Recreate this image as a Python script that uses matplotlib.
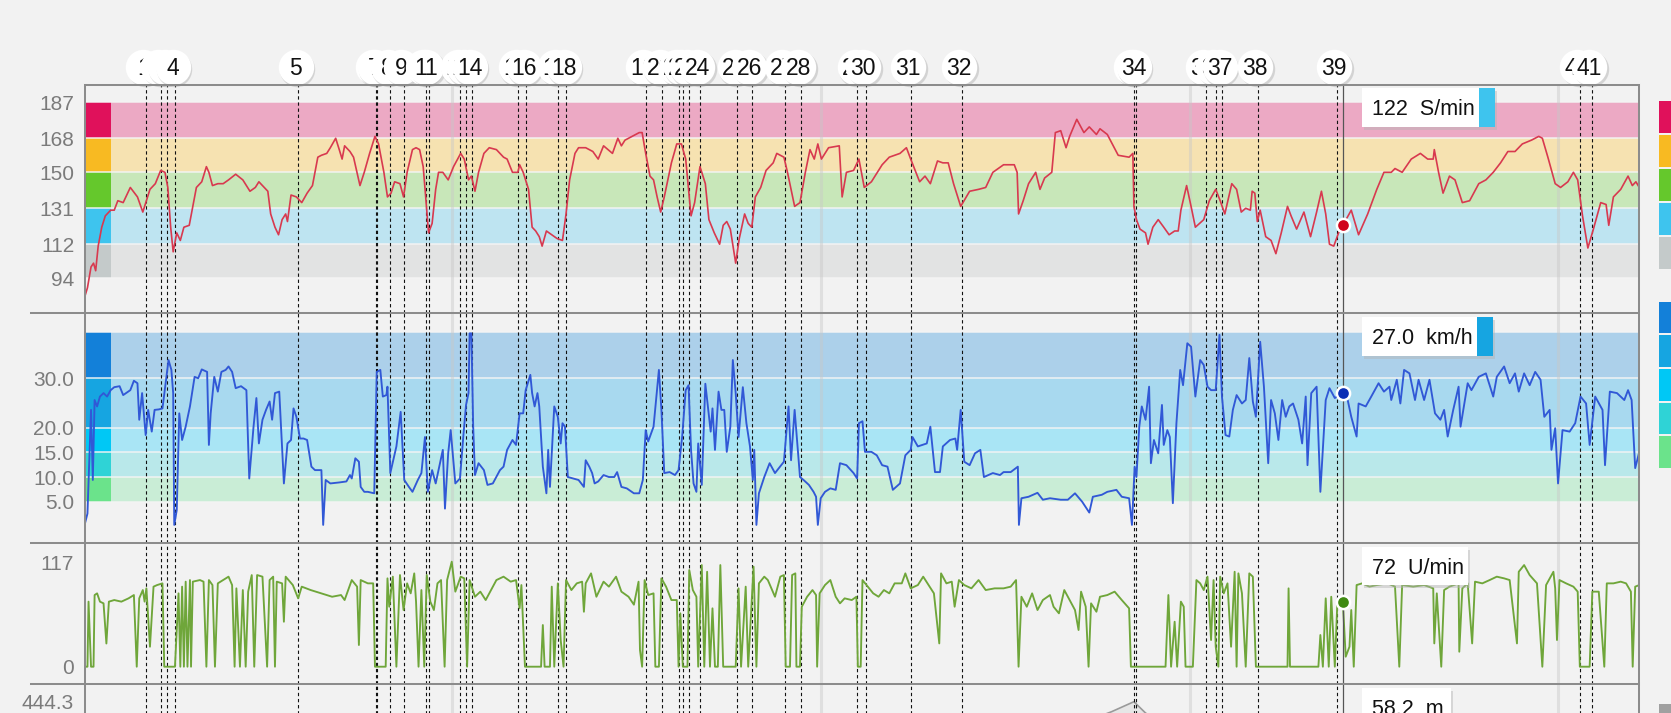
import numpy as np
import matplotlib
matplotlib.use("Agg")
import matplotlib.pyplot as plt
from matplotlib import transforms as mtransforms
from matplotlib.patches import Rectangle

plt.rcParams['font.family'] = ['Liberation Sans', 'DejaVu Sans']

# ------------------------------------------------------------------ data
# elapsed time in seconds
hr_points = [(0,84),(16,89),(36,100),(50,102),(62,98),(76,111),(96,121),(116,127),(146,130),(166,130),
 (186,135),(216,134),(256,142),(296,137),(326,129),(346,135),(366,141),(396,144),(426,151),(450,150),
 (466,142),(482,121),(496,108),(516,118),(536,114),(556,121),(586,122),(606,132),(626,142),(656,145),
 (682,153),(696,150),(716,143),(746,144),(776,144),(806,146),(846,149),(886,146),(926,140),(956,142),
 (976,145),(1006,142),(1026,140),(1042,128),(1066,121),(1086,117),(1106,125),(1126,128),(1136,124),(1156,138),
 (1186,137),(1216,134),(1246,139),(1276,143),(1306,158),(1326,159),(1356,160),(1376,163),(1406,168),(1426,162),
 (1442,157),(1456,164),(1486,161),(1506,158),(1542,143),(1566,150),(1596,160),(1626,169),(1646,165),(1676,150),
 (1696,137),(1716,139),(1736,145),(1766,144),(1786,137),(1806,150),(1836,162),(1856,163),(1876,162),(1896,153),
 (1910,137),(1926,118),(1946,123),(1966,141),(1982,150),(2006,150),(2036,146),(2066,153),(2106,160),(2126,157),
 (2150,146),(2166,148),(2186,140),(2206,150),(2236,160),(2266,163),(2306,162),(2346,158),(2366,157),(2396,150),
 (2426,150),(2436,154),(2456,150),(2486,141),(2506,121),(2526,119),(2546,116),(2562,111),(2586,119),(2616,117),
 (2646,115),(2676,114),(2696,128),(2716,146),(2746,160),(2766,163),(2806,163),(2846,161),(2876,157),(2906,164),
 (2956,160),(2986,168),(3006,164),(3026,167),(3066,169),(3106,171),(3122,171),(3142,160),(3166,148),(3186,146),
 (3206,137),(3226,129),(3246,137),(3286,155),(3316,165),(3342,165),(3366,157),(3396,127),(3416,134),(3446,153),
 (3476,144),(3496,125),(3526,118),(3556,112),(3576,122),(3596,124),(3616,120),(3646,102),(3666,115),(3696,128),
 (3716,123),(3736,121),(3756,137),(3786,142),(3816,151),(3856,155),(3876,160),(3916,158),(3936,150),(3976,132),
 (4006,134),(4036,150),(4062,162),(4086,157),(4106,165),(4126,157),(4166,163),(4226,164),(4242,137),(4266,150),
 (4306,151),(4336,157),(4366,142),(4406,145),(4466,154),(4506,158),(4566,160),(4602,163),(4626,157),(4676,145),
 (4706,148),(4736,144),(4776,156),(4806,155),(4836,155),(4866,144),(4906,132),(4956,140),(5006,141),(5046,142),
 (5086,150),(5146,154),(5206,154),(5222,150),(5230,128),(5256,135),(5286,144),(5326,150),(5350,141),(5376,147),
 (5416,150),(5436,171),(5466,172),(5496,163),(5516,169),(5556,178),(5596,171),(5626,174),(5666,170),(5686,173),
 (5727,170),(5788,159),(5849,158),(5870,160),(5876,132),(5890,125),(5910,120),(5941,118),(5955,112),(5982,121),
 (6012,125),(6043,121),(6073,117),(6104,119),(6124,119),(6139,130),(6171,143),(6196,132),(6220,121),(6267,125),
 (6298,135),(6334,141),(6359,135),(6385,128),(6424,144),(6451,141),(6477,129),(6502,131),(6528,130),(6538,140),
 (6553,139),(6567,124),(6583,130),(6614,116),(6644,114),(6671,107),(6701,118),(6736,132),(6756,127),(6787,120),
 (6828,129),(6865,116),(6899,129),(6926,140),(6950,128),(6971,112),(6995,111),(7022,118),(7046,122),(7093,130),
 (7134,117),(7185,128),(7236,141),(7276,150),(7317,150),(7338,152),(7378,150),(7429,157),(7480,160),(7521,157),
 (7552,157),(7558,162),(7582,150),(7607,139),(7643,148),(7674,146),(7715,134),(7756,135),(7807,144),(7847,146),
 (7888,150),(7929,155),(7970,161),(8010,161),(8051,165),(8102,167),(8143,169),(8163,168),(8194,158),(8235,144),
 (8265,142),(8306,145),(8337,150),(8361,146),(8388,127),(8418,110),(8449,120),(8490,134),(8520,133),(8535,122),
 (8561,137),(8602,141),(8643,148),(8667,143),(8687,145),(8706,142)]

speed_points = [(0,0.3),(16,2.6),(26,13.4),(36,23.6),(46,9.4),(56,25.6),(70,24.3),(86,26.3),(106,27),(126,26.3),
 (146,27.6),(166,28.2),(196,28.4),(216,26.6),(256,27.6),(276,29.5),(296,29),(306,21.6),(322,27),(342,18.5),
 (356,23.6),(376,19.2),(392,23.6),(416,23.7),(436,23.9),(456,29.7),(470,33.7),(486,31.7),(496,27),(502,0.3),
 (516,3.3),(530,22.9),(546,17.5),(566,20.2),(590,24.3),(616,30.3),(636,30),(656,31.8),(686,31.3),(696,16.5),
 (706,22.9),(726,30.3),(746,27.3),(766,31.3),(790,31.7),(806,32.4),(826,31.3),(846,28),(876,28.4),(906,27.6),
 (922,9.7),(946,20.2),(962,26),(976,16.8),(996,21.6),(1016,23.6),(1036,25.3),(1050,21.6),(1066,27),(1090,27.3),
 (1116,8.7),(1136,16.8),(1156,17.5),(1170,23.9),(1186,22.2),(1206,17.8),(1226,17.8),(1246,17.5),(1270,12.1),(1290,11.4),
 (1326,11.4),(1336,0.3),(1350,9.4),(1376,8.7),(1426,8.9),(1466,9.1),(1486,10.4),(1496,9.7),(1516,13.8),(1536,13.1),
 (1546,8),(1566,7),(1586,7),(1622,6.7),(1636,31.3),(1656,31.7),(1670,26.3),(1690,26.6),(1696,28.3),(1712,10.8),
 (1746,16.2),(1770,23.2),(1790,9.4),(1816,8),(1836,7),(1866,9.4),(1886,10.8),(1906,18.1),(1922,7),(1946,11.4),
 (1966,8.7),(1982,11.4),(2006,15.5),(2018,3.6),(2036,14.8),(2050,19.5),(2076,8.7),(2102,9.7),(2122,18.8),(2136,24.6),
 (2150,27),(2156,39.1),(2166,39.1),(2176,20.2),(2186,10.4),(2206,12.8),(2236,11.4),(2256,8.4),(2286,8.7),(2326,11.4),
 (2346,12.1),(2366,15.5),(2396,17.5),(2416,16.5),(2436,22.9),(2456,22.9),(2470,27.6),(2496,30.7),(2506,27),(2520,24.3),
 (2536,27),(2546,24.3),(2566,12.1),(2586,6.7),(2596,15.5),(2606,8),(2630,24.3),(2650,22.2),(2666,16.8),(2676,20.9),
 (2690,20.2),(2706,10),(2736,9.7),(2766,9.4),(2796,8),(2806,13.4),(2826,12.1),(2842,10.8),(2856,8.7),(2876,9.1),
 (2906,10.4),(2936,10),(2966,10),(2982,11),(3006,8),(3036,7.7),(3076,6.7),(3106,6.7),(3126,9.4),(3142,19.5),
 (3156,17.2),(3186,20.2),(3216,31.7),(3230,23.6),(3246,10.8),(3276,11),(3306,10.4),(3326,11.4),(3346,18.1),(3366,27.6),
 (3382,28.6),(3396,15.5),(3410,8.7),(3426,7),(3436,16.8),(3456,8.4),(3476,28.9),(3506,19.2),(3516,23.9),(3530,15.5),
 (3550,27.3),(3566,23.6),(3582,23.6),(3596,15.1),(3616,20.2),(3630,33.7),(3646,27),(3662,18.1),(3686,28.2),(3706,20.9),
 (3726,16.2),(3742,9.4),(3750,15.5),(3762,0.3),(3776,6.7),(3806,10),(3836,12.8),(3866,10.8),(3916,13.1),(3942,24.3),
 (3956,13.4),(3976,23.6),(4006,10),(4026,9.4),(4056,8.4),(4082,7),(4096,6),(4106,0.3),(4122,5.7),(4146,7),
 (4176,7.7),(4206,7.4),(4230,12.8),(4266,12.4),(4306,10.8),(4326,9.7),(4336,20.9),(4356,21.3),(4370,15.1),(4406,15.1),
 (4436,14.4),(4466,12.4),(4496,12.1),(4526,7.4),(4566,8.7),(4596,14.4),(4626,15.5),(4636,18.1),(4666,16.2),(4716,16.8),
 (4736,20.2),(4762,11),(4790,11),(4806,16.2),(4846,17.5),(4876,17.8),(4886,15.5),(4906,23.6),(4926,13.1),(4956,12.4),
 (4986,14.8),(5016,15.5),(5036,10),(5086,10.8),(5126,10.4),(5146,11),(5186,11),(5226,12.1),(5232,0.3),(5246,5.7),
 (5286,6),(5336,6.8),(5366,5.4),(5406,5.7),(5466,5.4),(5506,5.4),(5546,6.7),(5586,5),(5626,2.8),(5646,6),
 (5696,6.4),(5727,7),(5778,7.4),(5808,6),(5849,5.7),(5865,0.3),(5880,12.1),(5890,10),(5906,20.2),(5920,24.3),
 (5941,21.6),(5961,28.3),(5971,12.8),(5988,17.5),(6012,14.8),(6033,24.6),(6043,16.5),(6063,19.5),(6077,18.1),(6094,4.7),
 (6114,20.9),(6135,31.7),(6151,28.6),(6175,37.1),(6196,36.4),(6220,26.3),(6247,33.7),(6267,32.7),(6288,28.3),(6308,27.6),
 (6334,27.6),(6355,38.8),(6369,26.3),(6389,18.5),(6410,18.2),(6430,23.6),(6451,26.6),(6481,24.9),(6502,25.6),(6522,34.1),
 (6542,25.3),(6559,22.2),(6583,37.4),(6604,28.3),(6628,12.8),(6644,25.6),(6665,22.9),(6685,17.5),(6706,25.6),(6726,22.2),
 (6746,24.3),(6767,24.9),(6797,21.6),(6818,16.8),(6838,26.3),(6848,12.4),(6869,27),(6899,28.3),(6920,7),(6950,25.6),
 (6971,28),(7001,26),(7046,27.0),(7073,25.6),(7093,22.2),(7123,18.2),(7134,24.9),(7174,24.3),(7205,26.3),(7246,29),
 (7276,27.3),(7307,28.3),(7317,25.6),(7348,29.7),(7368,24.9),(7389,31.7),(7419,31),(7450,25.6),(7470,29.7),(7501,25.6),
 (7531,29.7),(7562,22.9),(7592,21.6),(7613,23.6),(7633,18.2),(7664,23.6),(7694,28.3),(7705,20.2),(7745,29),(7766,27.6),
 (7807,30.3),(7847,31),(7888,26.3),(7908,30.3),(7949,32.4),(7980,29),(8010,31),(8031,27.3),(8061,31),(8092,28.6),
 (8123,31.3),(8153,29.7),(8174,22.2),(8204,23.6),(8214,15.5),(8235,19.9),(8251,8.7),(8276,19.5),(8316,19.2),(8347,20.9),
 (8377,26.3),(8408,24.9),(8428,16.5),(8459,26.3),(8500,23.6),(8514,12.4),(8541,27.3),(8581,27),(8622,25.6),(8643,27.6),
 (8663,25.6),(8683,11.8),(8706,15.1)]

cadence_points = [(0,0),(16,0),(22,72.9),(36,0),(50,0),(56,80.3),(70,82.2),(86,72.9),(106,71),(122,26),
 (136,72.9),(166,74.7),(206,72.9),(246,76.6),(276,80.3),(292,0),(306,76.6),(326,85.9),(336,72.9),(346,87.8),
 (366,22.4),(386,89.7),(406,91.5),(436,93.4),(446,0),(506,0),(526,82.2),(536,0),(546,89.7),(556,0),
 (566,95.3),(576,0),(590,97.1),(596,0),(606,95.3),(646,97.1),(666,95.3),(682,0),(696,97.1),(716,91.5),
 (730,0),(746,93.4),(776,97.1),(806,100.9),(826,91.5),(840,0),(850,87.8),(870,0),(886,85.9),(902,0),
 (916,84.1),(936,102.7),(950,0),(966,102.7),(996,100.9),(1022,0),(1036,97.1),(1056,100.9),(1066,0),(1076,95.3),
 (1106,93.4),(1116,50.4),(1126,100.9),(1166,91.5),(1196,76.6),(1216,89.7),(1266,85.9),(1326,82.2),(1386,78.4),(1436,80.3),
 (1456,74.7),(1496,97.1),(1526,89.7),(1536,24.3),(1546,97.1),(1586,93.4),(1616,93.4),(1626,0),(1686,0),(1696,99),
 (1706,67.2),(1726,100.9),(1746,0),(1766,102.7),(1786,63.5),(1806,93.4),(1826,82.2),(1846,104.6),(1856,72.9),(1870,0),
 (1886,85.9),(1902,0),(1916,102.7),(1936,72.9),(1956,63.5),(1976,93.4),(1996,97.1),(2016,0),(2030,97.1),(2056,117.7),
 (2076,84.1),(2106,100.9),(2126,99),(2142,0),(2156,97.1),(2186,78.4),(2216,84.1),(2246,74.7),(2276,85.9),(2306,97.1),
 (2346,100.9),(2386,95.3),(2416,97.1),(2436,65.4),(2446,91.5),(2466,0),(2556,0),(2566,46.7),(2576,0),(2606,0),
 (2616,89.7),(2630,0),(2650,93.4),(2666,29.9),(2682,0),(2696,97.1),(2726,85.9),(2756,93.4),(2786,95.3),(2796,61.6),
 (2806,93.4),(2836,104.6),(2866,78.4),(2906,95.3),(2936,89.7),(2976,100.9),(3006,84.1),(3046,78.4),(3076,69.5),(3102,95.3),
 (3110,18.7),(3122,0),(3136,97.1),(3156,80.3),(3186,82.2),(3196,0),(3216,0),(3230,99),(3256,89.7),(3286,74.7),
 (3316,74.7),(3326,0),(3336,59.8),(3350,0),(3376,0),(3386,108.3),(3406,85.9),(3426,78.4),(3436,0),(3456,113.9),
 (3470,0),(3486,106.4),(3502,0),(3516,65.4),(3530,0),(3546,0),(3560,113.9),(3576,0),(3646,0),(3662,87.8),
 (3676,0),(3702,89.7),(3716,0),(3736,74.7),(3746,112.1),(3762,0),(3776,93.4),(3806,100.9),(3826,97.1),(3866,78.4),
 (3896,100.9),(3916,102.7),(3926,0),(3950,0),(3962,102.7),(3980,104.6),(3986,0),(4006,0),(4016,67.2),(4046,78.4),
 (4076,85.9),(4096,80.3),(4102,0),(4116,82.2),(4146,91.5),(4176,97.1),(4206,78.4),(4230,71),(4256,76.6),(4296,74.7),
 (4322,78.4),(4330,0),(4346,0),(4356,97.1),(4386,89.7),(4416,82.2),(4446,78.4),(4476,85.9),(4506,82.2),(4536,93.4),
 (4576,93.4),(4596,104.6),(4626,87.8),(4666,91.5),(4696,100.9),(4726,91.5),(4756,82.2),(4786,26.1),(4796,104.6),(4826,93.4),
 (4856,95.3),(4872,67.2),(4896,97.1),(4926,91.5),(4966,87.8),(5006,97.1),(5046,85.9),(5096,87.8),(5146,87.8),(5186,89.7),
 (5216,97.1),(5230,0),(5246,78.4),(5276,67.2),(5306,82.2),(5336,63.5),(5366,74.7),(5406,80.3),(5426,67.2),(5456,59.8),
 (5486,85.9),(5516,74.7),(5546,63.5),(5566,41.1),(5580,84.1),(5606,67.2),(5622,0),(5636,71),(5666,61.6),(5686,78.4),
 (5727,80.3),(5768,84.1),(5808,74.7),(5849,65.4),(5859,0),(6053,0),(6069,80.3),(6084,0),(6104,50.4),(6118,0),
 (6139,72.9),(6155,67.2),(6165,0),(6206,0),(6226,97.1),(6247,93.4),(6267,85.9),(6288,100.9),(6308,29.9),(6322,97.1),
 (6334,22.4),(6349,0),(6359,100.9),(6379,82.2),(6400,93.4),(6420,22.4),(6440,106.4),(6451,0),(6461,104.6),(6481,82.2),
 (6502,0),(6522,104.6),(6542,100.9),(6559,0),(6736,0),(6742,87.8),(6750,0),(6909,0),(6920,35.5),(6934,0),
 (6950,76.6),(6967,0),(6981,78.4),(7001,0),(7015,71),(7046,72),(7062,11.2),(7083,22.4),(7093,63.5),(7107,0),
 (7123,91.5),(7154,93.4),(7195,89.7),(7236,91.5),(7297,93.4),(7338,89.7),(7362,0),(7378,91.5),(7440,89.7),(7501,91.5),
 (7552,87.8),(7558,26.1),(7572,82.2),(7597,0),(7613,85.9),(7643,89.7),(7694,93.4),(7698,16.8),(7715,87.8),(7745,93.4),
 (7770,26.1),(7786,95.3),(7827,93.4),(7868,97.1),(7908,100.9),(7949,99),(7980,97.1),(8021,26.1),(8031,106.4),(8061,113.9),
 (8092,102.7),(8133,93.4),(8163,0),(8184,91.5),(8225,106.4),(8235,87.8),(8245,29.9),(8259,97.1),(8296,93.4),(8337,89.7),
 (8361,84.1),(8373,0),(8428,0),(8443,84.1),(8479,84.1),(8510,0),(8524,93.4),(8561,93.4),(8602,95.3),(8632,93.4),
 (8659,84.1),(8669,0),(8683,89.7),(8706,91.5)]

altitude_points = [(0,62),(2000,150),(4000,250),(5500,330),(5751,402.4),(5876,444.3),(5941,396.9),
 (6300,220),(7046,58.2),(8000,60),(8706,62)]

marker_t = [342,426,462,508,1196,1630,1638,1712,1786,1910,1928,2104,2138,2170,2428,2474,2650,2698,
            3142,3236,3326,3352,3386,3444,3656,3736,3920,4010,4328,4374,4626,4912,5876,5888,6278,6335,
            6372,6569,7012,8372,8439]
marker_labels = [str(i) for i in range(1, len(marker_t) + 1)]
section_t = [2056, 4126, 6188, 8252]
cursor_t = 7046
t_end = 8706

hr_zone_edges = [94, 112, 131, 150, 168, 187]
hr_zone_colors = ['#c4caca', '#3ec4ee', '#65c82c', '#f8ba22', '#e0115b']
hr_band_colors = ['#e2e3e3', '#bee4f1', '#c8e7b9', '#f6e2b1', '#eca9c4']
spd_zone_edges = [5, 10, 15, 20, 30, 39.3]
spd_zone_colors = ['#6be38b', '#2fd3d6', '#00c8f5', '#16a5e1', '#1380d9']
spd_band_colors = ['#c9edd6', '#b9e8ea', '#a9e5f5', '#a8d9ef', '#acd0ea']
hr_ticks = [94, 112, 131, 150, 168, 187]
spd_ticks = [5, 10, 15, 20, 30]
cad_ticks = [0, 117]
alt_ticks = [444.3]

hr_t, hr_bpm = map(np.array, zip(*hr_points))
spd_t, spd_kmh = map(np.array, zip(*speed_points))
cad_t, cad_rpm = map(np.array, zip(*cadence_points))
alt_t, alt_m = map(np.array, zip(*altitude_points))

# ------------------------------------------------------------------ layout (pixels)
W, H = 1671, 713
BG = '#f2f2f2'
L, R = 84.6, 1639.3
P_TOP, P1, P2, P3, P_ALT_BOT = 85.3, 313.3, 543.0, 684.3, 825.3
FRAME = '#8c8c8c'

fig = plt.figure(figsize=(W / 100, H / 100), dpi=100, facecolor=BG)


def px_axes(top, bottom):
    ax = fig.add_axes([L / W, 1 - bottom / H, (R - L) / W, (bottom - top) / H])
    ax.set_facecolor('none')
    for s in ax.spines.values():
        s.set_visible(False)
    ax.set_xticks([])
    ax.tick_params(axis='y', length=0, pad=7.5, labelsize=15, labelcolor='#7b7b7b')
    return ax


def ylim_from(v1, p1, v2, p2, top, bottom):
    k = (v1 - v2) / (p2 - p1)
    return v2 - (bottom - p2) * k, v1 + (p1 - top) * k


ax_hr = px_axes(P_TOP, P1)
ax_sp = px_axes(P1, P2)
ax_cd = px_axes(P2, P3)
ax_al = px_axes(P3, P_ALT_BOT)
axes = [ax_hr, ax_sp, ax_cd, ax_al]

lims = {
    ax_hr: ylim_from(187, 102.3, 94, 278.3, P_TOP, P1),
    ax_sp: ylim_from(30, 378.3, 5, 501.7, P1, P2),
    ax_cd: ylim_from(117, 562.3, 0, 666.7, P2, P3),
    ax_al: ylim_from(444.3, 701.7, 0, 807.7, P3, P_ALT_BOT),
}
sw_frac = 26.1 / (R - L)

# zone bands
for ax, edges, bands, zones in [(ax_hr, hr_zone_edges, hr_band_colors, hr_zone_colors),
                                (ax_sp, spd_zone_edges, spd_band_colors, spd_zone_colors)]:
    for lo, hi, bc, zc in zip(edges[:-1], edges[1:], bands, zones):
        ax.axhspan(lo, hi, color=bc, lw=0, zorder=0.5)
        ax.axhspan(lo, hi, xmin=0, xmax=sw_frac, color=zc, lw=0, zorder=0.6)
    for e in edges:
        ax.axhline(e, color='#f4f4f4', lw=1.3, alpha=0.8, zorder=0.7)

for ax in axes:
    for t in section_t:
        ax.axvline(t, color='#c8c8c8', lw=2.2, alpha=0.45, zorder=0.8)
    for t in marker_t:
        ax.axvline(t, color='#111111', lw=0.8, ls=(0, (3, 2.5)), zorder=1.5)
    ax.axvline(cursor_t, color='#555555', lw=0.9, zorder=2.5)

# series
ax_hr.plot(hr_t, hr_bpm, color='#d8394f', lw=1.2, zorder=2)
ax_sp.plot(spd_t, spd_kmh, color='#3158d6', lw=1.35, zorder=2)
ax_cd.plot(cad_t, cad_rpm, color='#6fa63a', lw=1.35, zorder=2)
ax_al.fill_between(alt_t, alt_m, lims[ax_al][0], color='#e6e6e6', lw=0, zorder=1.0)
ax_al.plot(alt_t, alt_m, color='#9a9a9a', lw=1.2, zorder=1.1)

# ticks
ax_hr.set_yticks(hr_ticks, [str(v) for v in hr_ticks])
ax_sp.set_yticks(spd_ticks, [f"{v:.1f}" for v in spd_ticks])
ax_cd.set_yticks(cad_ticks, [str(v) for v in cad_ticks])
ax_al.set_yticks(alt_ticks, [f"{v:.1f}" for v in alt_ticks])

# cursor values
hr_val = np.interp(cursor_t, hr_t, hr_bpm)
sp_val = np.interp(cursor_t, spd_t, spd_kmh)
cd_val = np.interp(cursor_t, cad_t, cad_rpm)
al_val = np.interp(cursor_t, alt_t, alt_m)
for ax, v, c in [(ax_hr, hr_val, '#d0021b'), (ax_sp, sp_val, '#0b2fb5'), (ax_cd, cd_val, '#3f8a12')]:
    ax.plot([cursor_t], [v], 'o', ms=9.5, mfc=c, mec='white', mew=1.8, zorder=6, clip_on=False)

# marker circles
yc = 1 - 67.3 / H
blend = mtransforms.blended_transform_factory(ax_hr.transData, fig.transFigure)
circ_tr = mtransforms.offset_copy(blend, fig=fig, x=-2.5, y=0, units='dots')
shad_tr = mtransforms.offset_copy(blend, fig=fig, x=-1.0, y=-2.0, units='dots')
text_tr = mtransforms.offset_copy(blend, fig=fig, x=-2.5, y=-8.0, units='dots')
for i, (t, lab) in enumerate(zip(marker_t, marker_labels)):
    z = 20 + i * 0.01
    ax_hr.plot([t], [yc], 'o', ms=25.5, mfc='#9a9a9a', mec='none', alpha=0.35,
               transform=shad_tr, clip_on=False, zorder=z - 0.004)
    ax_hr.plot([t], [yc], 'o', ms=25.5, mfc='white', mec='none',
               transform=circ_tr, clip_on=False, zorder=z)
    ax_hr.text(t, yc, lab, transform=text_tr, ha='center', va='baseline',
               fontsize=16.5, color='#111111', zorder=z + 0.005, clip_on=False)

for ax in axes:
    ax.set_xlim(0, t_end)
    ax.set_ylim(*lims[ax])

# ------------------------------------------------------------------ overlay (frame, tooltips, legend swatches)
ov = fig.add_axes([0, 0, 1, 1], zorder=10)
ov.set_xlim(0, W)
ov.set_ylim(H, 0)
ov.axis('off')
lw_frame = 1.45
ov.plot([L, R], [P_TOP, P_TOP], color=FRAME, lw=lw_frame)
for y in [P1, P2, P3]:
    ov.plot([31, R], [y, y], color=FRAME, lw=lw_frame)
ov.plot([L, L], [P_TOP, H], color=FRAME, lw=lw_frame)
ov.plot([R, R], [P_TOP, H], color=FRAME, lw=lw_frame)

# right legend swatches
for i, c in enumerate(hr_zone_colors[::-1]):
    ov.add_patch(Rectangle((1659, 101 + i * 34.1), 30, 31.6, color=c, lw=0))
for i, c in enumerate(spd_zone_colors[::-1]):
    ov.add_patch(Rectangle((1659, 301.7 + i * 33.6), 30, 31.6, color=c, lw=0))
ov.add_patch(Rectangle((1659, 704), 30, 30, color='#a0a0a0', lw=0))


def zone_color(v, edges, colors):
    i = int(np.clip(np.searchsorted(edges, v) - 1, 0, len(colors) - 1))
    return colors[i]


def tooltip(x0, y0, w, h, text, tab=None):
    ov.add_patch(Rectangle((x0 + 2, y0 + 3), w, h, color='#b4b4b4', alpha=0.45, lw=0))
    ov.add_patch(Rectangle((x0, y0), w, h, color='white', lw=0))
    if tab is not None:
        ov.add_patch(Rectangle((x0 + w - 16, y0), 16, h, color=tab, lw=0))
    ov.text(x0 + 10.5, y0 + h / 2 + 7.8, text, ha='left', va='baseline',
            fontsize=15.5, color='#111111')


tooltip(1361.8, 88.3, 133.3, 38.4, f"{hr_val:.0f}  S/min",
        zone_color(hr_val, hr_zone_edges, hr_zone_colors))
tooltip(1361.8, 316.7, 131.5, 39.0, f"{sp_val:.1f}  km/h",
        zone_color(sp_val, spd_zone_edges, spd_zone_colors))
tooltip(1361.8, 547.3, 106.0, 37.7, f"{cd_val:.0f}  U/min")
tooltip(1361.8, 688.3, 88.9, 38.0, f"{al_val:.1f}  m")

fig.savefig('out.png', dpi=100, facecolor=BG)
